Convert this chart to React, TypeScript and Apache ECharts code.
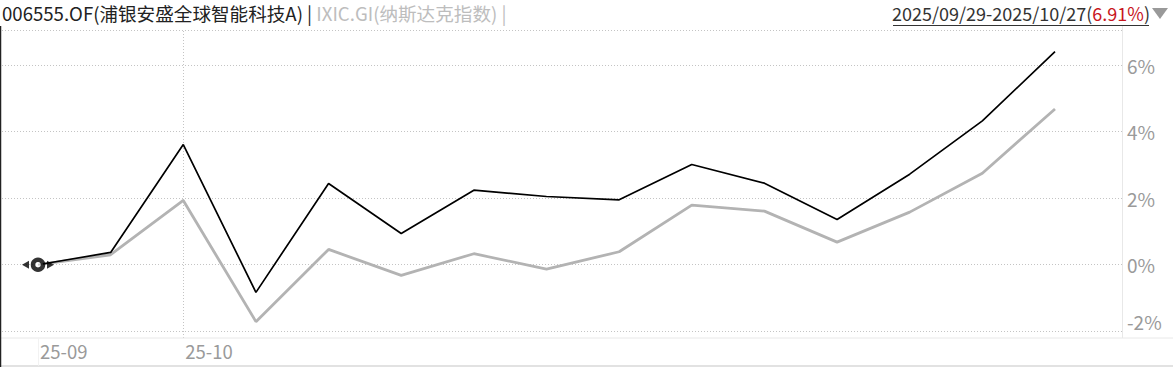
import React, { useEffect, useRef } from "react";
import * as echarts from "echarts";

// Trading days shown on the x axis
const dates = [
  "2025-09-29", "2025-09-30", "2025-10-09", "2025-10-10", "2025-10-13",
  "2025-10-14", "2025-10-15", "2025-10-16", "2025-10-17", "2025-10-20",
  "2025-10-21", "2025-10-22", "2025-10-23", "2025-10-24", "2025-10-27",
];

// Cumulative return (%) of the fund
const fundReturn = [0, 0.37, 3.61, -0.83, 2.44, 0.94, 2.24, 2.05, 1.95, 3.01, 2.45, 1.36, 2.72, 4.32, 6.4];
// Cumulative return (%) of the benchmark index
const indexReturn = [0, 0.3, 1.93, -1.71, 0.46, -0.32, 0.33, -0.13, 0.39, 1.79, 1.61, 0.68, 1.58, 2.75, 4.68];

// Indices of the x-axis categories that get a month label
const monthLabelIdx = [0, 2];
const yTicks = { min: -2, max: 6, step: 2 };

const fundName = "006555.OF(浦银安盛全球智能科技A)";
const indexName = "IXIC.GI(纳斯达克指数)";
const rangeText = "2025/09/29-2025/10/27(";
const rangeReturn = "6.91%";

const FONT = "'Microsoft YaHei', 'Noto Sans CJK SC', sans-serif";

export default function App() {
  const ref = useRef<HTMLDivElement>(null);

  useEffect(() => {
    if (!ref.current) return;
    const chart = echarts.init(ref.current, undefined, { renderer: "svg" });
    const W = 1173;
    const H = 367;
    // y pixel scale: 6% at 65, -2% at 331.3
    const pxPerPct = (331.3 - 65) / (yTicks.max - yTicks.min);
    const dataTop = 31;
    const dataBottom = 337.7;
    const dataMax = yTicks.max + (65 - dataTop) / pxPerPct;
    const dataMin = yTicks.min - (dataBottom - 331.3) / pxPerPct;

    // start-of-period handle: ring with a small arrow on each side
    const startMarker = {
      name: "start",
      type: "scatter",
      xAxisIndex: 1,
      yAxisIndex: 1,
      silent: true,
      z: 5,
      data: [
        {
          value: [0, fundReturn[0]],
          symbol: "triangle",
          symbolSize: [8, 7],
          symbolRotate: 90,
          symbolOffset: [-12.5, 0],
          itemStyle: { color: "#000" },
        },
        {
          value: [0, fundReturn[0]],
          symbol: "triangle",
          symbolSize: [8, 7],
          symbolRotate: -90,
          symbolOffset: [12.5, 0],
          itemStyle: { color: "#000" },
        },
        {
          value: [0, fundReturn[0]],
          symbol: "circle",
          symbolSize: 10,
          itemStyle: { color: "#fff", borderColor: "#000", borderWidth: 4.5 },
        },
      ],
    };

    chart.setOption({
      animation: false,
      backgroundColor: "#fff",
      grid: [
        { left: 2, right: W - 1122, top: 65, bottom: H - 331.3, containLabel: false },
        { left: 38, right: W - 1055, top: dataTop, bottom: H - dataBottom, containLabel: false },
      ],
      xAxis: [
        { type: "value", gridIndex: 0, min: 0, max: 1, show: false },
        {
          type: "category",
          gridIndex: 1,
          data: dates,
          boundaryGap: false,
          axisLine: { show: false, onZero: false },
          axisTick: {
            show: true,
            interval: (i: number) => i === 0,
            length: 28,
            lineStyle: { color: "#f2f2f2" },
          },
          axisLabel: {
            interval: (i: number) => monthLabelIdx.includes(i),
            formatter: (v: string) => v.slice(2, 7),
            align: "left",
            padding: [0, 0, 0, 2],
            margin: 4,
            color: "#9a9a9a",
            fontSize: 18.5,
            fontFamily: FONT,
          },
          splitLine: {
            show: true,
            interval: (i: number) => i === 2,
            lineStyle: { color: "#c4c4c4", type: [1, 2] },
          },
        },
      ],
      yAxis: [
        {
          type: "value",
          gridIndex: 0,
          position: "right",
          min: yTicks.min,
          max: yTicks.max,
          interval: yTicks.step,
          axisLine: { show: false },
          axisTick: { show: false },
          axisLabel: {
            formatter: "{value}%",
            color: "#9a9a9a",
            fontSize: 19,
            fontFamily: FONT,
            margin: 5,
            verticalAlignMinLabel: "bottom",
          },
          splitLine: { show: true, lineStyle: { color: "#c4c4c4", type: [1, 2] } },
        },
        {
          type: "value",
          gridIndex: 1,
          min: dataMin,
          max: dataMax,
          show: false,
          splitLine: { show: false },
        },
      ],
      series: [
        {
          name: indexName,
          type: "line",
          xAxisIndex: 1,
          yAxisIndex: 1,
          data: indexReturn,
          showSymbol: false,
          lineStyle: { color: "#b3b3b3", width: 2.8 },
          itemStyle: { color: "#b3b3b3" },
          z: 2,
        },
        {
          name: fundName,
          type: "line",
          xAxisIndex: 1,
          yAxisIndex: 1,
          showSymbol: false,
          data: fundReturn,
          lineStyle: { color: "#000", width: 1.7 },
          itemStyle: { color: "#000" },
          z: 3,
        },
        startMarker,
      ],
      graphic: [
        // frame
        { type: "line", shape: { x1: 2, y1: 30.5, x2: 1122, y2: 30.5 }, style: { stroke: "#c4c4c4", lineDash: [1, 2], lineWidth: 1 }, silent: true },
        { type: "line", shape: { x1: 0, y1: 338, x2: W, y2: 338 }, style: { stroke: "#e8e8e8", lineWidth: 1 }, silent: true },
        { type: "line", shape: { x1: 1122.5, y1: 26, x2: 1122.5, y2: 338 }, style: { stroke: "#e8e8e8", lineWidth: 1 }, silent: true },
        { type: "line", shape: { x1: 0, y1: 366, x2: W, y2: 366 }, style: { stroke: "#d8d8d8", lineWidth: 1.5 }, silent: true },
        { type: "line", shape: { x1: 0.5, y1: 26, x2: 0.5, y2: H }, style: { stroke: "#222", lineWidth: 1.5 }, silent: true },
        // header
        {
          type: "text",
          left: 2,
          top: 3,
          style: {
            text: `{a|${fundName} | }{b|${indexName} |}`,
            rich: {
              a: { fill: "#222", fontSize: 18.6, fontFamily: FONT },
              b: { fill: "#bdbdbd", fontSize: 18.6, fontFamily: FONT },
            },
          },
        },
        {
          type: "text",
          right: 23,
          top: 4,
          style: {
            text: `{a|${rangeText}}{r|${rangeReturn}}{a|)}`,
            rich: {
              a: { fill: "#333", fontSize: 18, fontFamily: FONT },
              r: { fill: "#c8161d", fontSize: 18, fontFamily: FONT },
            },
          },
        },
        { type: "line", shape: { x1: 893, y1: 25.5, x2: 1149, y2: 25.5 }, style: { stroke: "#333", lineWidth: 1 }, silent: true },
        {
          type: "polygon",
          shape: { points: [[1152, 8], [1168, 8], [1160, 19]] },
          style: { fill: "#999" },
          silent: true,
        },
      ],
    });

    return () => chart.dispose();
  }, []);

  return (
    <div
      ref={ref}
      style={{ position: "fixed", left: 0, top: 0, width: 1173, height: 367, background: "#fff" }}
    />
  );
}
